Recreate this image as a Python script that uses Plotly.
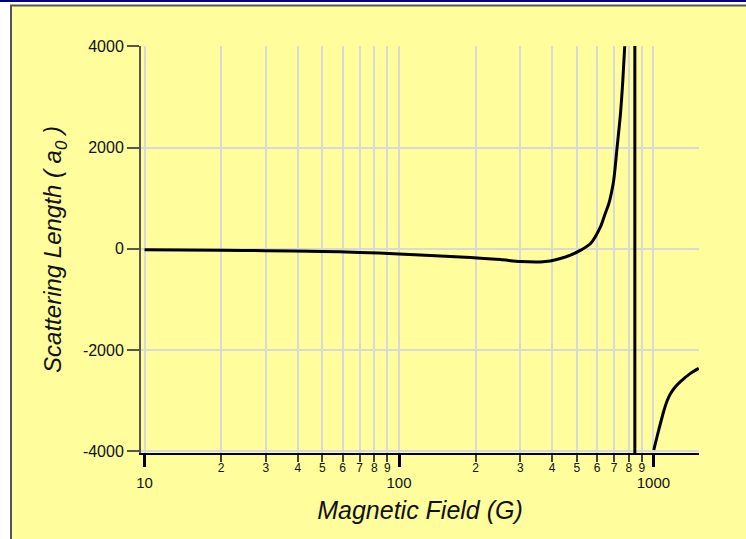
import plotly.graph_objects as go

# Scattering length vs magnetic field (log field axis)
field_low = [10, 20, 30, 50, 70, 100, 133, 191, 250, 300, 359, 393, 431, 472,
             518, 566, 619, 642, 668, 684, 698, 720, 742, 758, 771]
length_low = [-15, -28, -35, -50, -70, -100, -130, -170, -212, -250, -258, -240,
              -190, -123, -25, 107, 435, 656, 897, 1114, 1356, 2013, 2672, 3329,
              4000]

field_high = [1003, 1049, 1098, 1132, 1166, 1220, 1277, 1398, 1507]
length_high = [-3971, -3576, -3200, -2998, -2860, -2722, -2620, -2458, -2359]

resonance_field = 845

y_ticks = [-4000, -2000, 0, 2000, 4000]
y_labels = ["-4000", "-2000", "0", "2000", "4000"]

major_ticks = [10, 100, 1000]
major_labels = ["10", "100", "1000"]
minor_ticks = [m * d for d in (10, 100) for m in range(2, 10)]
minor_labels = [str(m) for d in (10, 100) for m in range(2, 10)]

YELLOW = "#FFFD9C"
FONT = "Liberation Sans"

W, H = 746, 539
L, R, T, B = 141, 47, 46, 86
pw, ph = W - L - R, H - T - B


def px(x):
    return (x - L) / pw


def py(y):
    return (H - B - y) / ph


fig = go.Figure()

line_style = dict(color="black", width=3, shape="spline", smoothing=0.8)
fig.add_trace(go.Scatter(x=field_low, y=length_low, mode="lines",
                         line=line_style, hoverinfo="skip"))
fig.add_trace(go.Scatter(x=field_high, y=length_high, mode="lines",
                         line=line_style, hoverinfo="skip"))

x_range = [0.986, 3.179]

fig.update_layout(
    width=W, height=H,
    margin=dict(l=L, r=R, t=T, b=B, pad=0),
    paper_bgcolor="white",
    plot_bgcolor=YELLOW,
    showlegend=False,
    font=dict(family=FONT, color="#111"),
    xaxis=dict(
        type="log", range=x_range,
        tickmode="array",
        tickvals=minor_ticks + major_ticks,
        ticktext=minor_labels + ["<br><span style='font-size:15px'>%s</span>" % s
                                 for s in major_labels],
        tickfont=dict(size=12, family=FONT, color="#111"),
        ticklabelstandoff=-4,
        ticks="outside", ticklen=7, tickwidth=2, tickcolor="#444",
        showgrid=True, gridcolor="#d9d9d9", gridwidth=2,
        showline=True, linecolor="black", linewidth=2,
        zeroline=False,
        title=dict(text="Magnetic Field (G)",
                   font=dict(size=25, family=FONT, style="italic", color="#111"),
                   standoff=11),
    ),
    xaxis2=dict(
        type="log", range=x_range, overlaying="x", anchor="y", side="bottom",
        tickmode="array", tickvals=major_ticks,
        ticks="outside", ticklen=13, tickwidth=3, tickcolor="black",
        showticklabels=False, showgrid=False, showline=False, zeroline=False,
    ),
    yaxis=dict(
        range=[-4030, 4005],
        tickmode="array", tickvals=y_ticks, ticktext=y_labels,
        tickfont=dict(size=16, family=FONT, color="#111"),
        ticks="outside", ticklen=12, tickwidth=2, tickcolor="#555",
        showgrid=True, gridcolor="#d9d9d9", gridwidth=2,
        showline=True, linecolor="#555", linewidth=2,
        zeroline=False,
        title=dict(text="Scattering Length ( a<sub>0</sub> )",
                   font=dict(size=24, family=FONT, style="italic", color="#111"),
                   standoff=14),
    ),
)

# invisible point that keeps the overlaid major-tick axis in the figure
fig.add_trace(go.Scatter(x=[10], y=[0], xaxis="x2", mode="markers",
                         marker=dict(opacity=0), hoverinfo="skip"))

# resonance pole
fig.add_shape(type="line", xref="x", yref="paper",
              x0=resonance_field, x1=resonance_field, y0=0, y1=1,
              line=dict(color="black", width=3))

# page frame
fig.add_shape(type="rect", xref="paper", yref="paper", layer="below",
              x0=px(11), x1=px(760), y0=py(560), y1=py(5.5),
              fillcolor=YELLOW, line=dict(color="#555", width=2))
fig.add_shape(type="line", xref="paper", yref="paper",
              x0=px(-5), x1=px(760), y0=py(1), y1=py(1),
              line=dict(color="#000080", width=2))

fig.write_html("out.html")
